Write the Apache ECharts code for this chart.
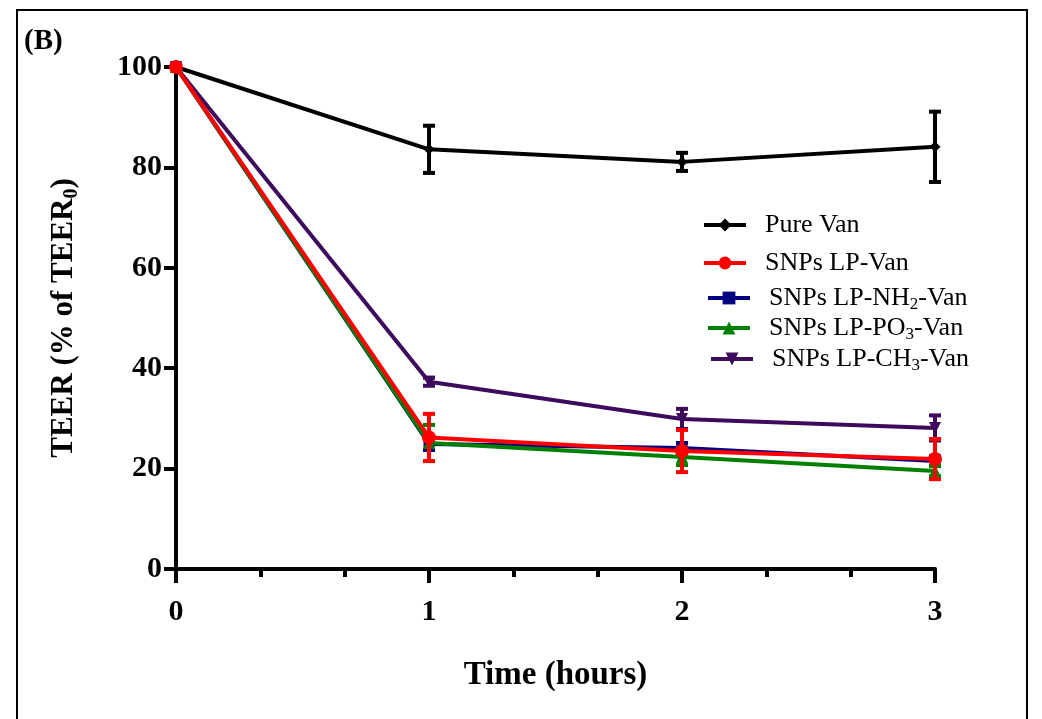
<html>
<head>
    <meta charset="UTF-8">
    <title>TEER</title>
    <script src="https://cdn.jsdelivr.net/npm/echarts@6/dist/echarts.min.js"></script>
    <style>
        body { margin: 0; background: #fff; }
    </style>
</head>
<body>
    <div id="container" style="width: 1042px;height:719px;"></div>
</body>
<script>
    var times = [0, 1, 2, 3];
    var seriesNames = ['Pure Van', 'SNPs LP-Van', 'SNPs LP-NH2-Van', 'SNPs LP-PO3-Van', 'SNPs LP-CH3-Van'];
    var pureVan = [100, 83.6, 81.1, 84.1];
    var lpVan = [100, 26.2, 23.5, 21.9];
    var nh2Van = [100, 24.9, 24.1, 21.5];
    var po3Van = [100, 25.1, 22.3, 19.5];
    var ch3Van = [100, 37.3, 29.9, 28.1];
    // error bars (+/-)
    var pureErr = [0, 4.7, 1.8, 7.0];
    var lpErr = [0, 4.7, 4.2, 4.0];
    var nh2Err = [0, 1.2, 1.0, 1.0];
    var po3Err = [0, 3.6, 1.6, 1.0];
    var ch3Err = [0, 0.8, 2.0, 2.5];
    var yTicks = [0, 20, 40, 60, 80, 100];

    var font = 'Liberation Serif';
    var colors = ['#000000', '#ff0000', '#000080', '#008000', '#3d0a5c'];
    var symbols = ['diamond', 'circle', 'rect', 'triangle', 'triangle'];
    var symbolSizes = [11, 14, 11, 12, 12];
    var symbolRotates = [0, 0, 0, 0, 180];
    var values = [pureVan, lpVan, nh2Van, po3Van, ch3Van];
    var errors = [pureErr, lpErr, nh2Err, po3Err, ch3Err];
    var zs = [3, 6, 4, 5, 3];
    var legendTops = [224, 262, 297, 327, 358];
    var legendLefts = [702, 702, 706, 706, 709];

    var mycharts = echarts.init(document.getElementById('container'));

    function label(name) {
        return name.replace('NH2', 'NH{sub|2}').replace('PO3', 'PO{sub|3}').replace('CH3', 'CH{sub|3}');
    }

    function errorSeries(i) {
        var data = [];
        for (var k = 0; k < times.length; k++) {
            if (errors[i][k] > 0) {
                data.push([times[k], values[i][k] - errors[i][k], values[i][k] + errors[i][k]]);
            }
        }
        return {
            type: 'custom',
            z: zs[i],
            silent: true,
            data: data,
            renderItem: function (params, api) {
                var lo = api.coord([api.value(0), api.value(1)]);
                var hi = api.coord([api.value(0), api.value(2)]);
                var w = 6;
                var st = { stroke: colors[i], lineWidth: 4 };
                return {
                    type: 'group',
                    children: [
                        { type: 'line', shape: { x1: lo[0], y1: lo[1], x2: hi[0], y2: hi[1] }, style: st },
                        { type: 'line', shape: { x1: lo[0] - w, y1: lo[1], x2: lo[0] + w, y2: lo[1] }, style: st },
                        { type: 'line', shape: { x1: hi[0] - w, y1: hi[1], x2: hi[0] + w, y2: hi[1] }, style: st }
                    ]
                };
            }
        };
    }

    var series = [];
    var legends = [];
    for (var i = 0; i < seriesNames.length; i++) {
        var pts = [];
        for (var k = 0; k < times.length; k++) {
            pts.push([times[k], values[i][k]]);
        }
        series.push({
            name: seriesNames[i],
            type: 'line',
            data: pts,
            z: zs[i],
            symbol: symbols[i],
            symbolSize: symbolSizes[i],
            symbolRotate: symbolRotates[i],
            showAllSymbol: true,
            color: colors[i],
            lineStyle: { width: 4, color: colors[i] },
            itemStyle: { color: colors[i] },
            animation: false
        });
        series.push(errorSeries(i));
        legends.push({
            data: [seriesNames[i]],
            left: legendLefts[i],
            top: legendTops[i] - 12,
            itemWidth: 42,
            itemHeight: 16,
            itemGap: 0,
            padding: 0,
            lineStyle: { width: 4 },
            formatter: function (name) { return label(name); },
            textStyle: {
                fontFamily: font,
                fontSize: 26,
                color: '#000',
                padding: [0, 0, 0, 14],
                rich: {
                    sub: { fontFamily: font, fontSize: 17, color: '#000', padding: [13, 0, 0, 0] }
                }
            }
        });
    }

    var option = {
        animation: false,
        grid: { left: 176, right: 107, top: 67, bottom: 150 },
        legend: legends,
        graphic: [
            { type: 'rect', shape: { x: 17, y: 10, width: 1010, height: 720 }, style: { fill: null, stroke: '#000', lineWidth: 2 } },
            { type: 'text', left: 24, top: 27, style: { text: '(B)', font: 'bold 29px "Liberation Serif"', fill: '#000' } }
        ],
        xAxis: {
            type: 'value',
            min: 0,
            max: 3,
            interval: 1,
            name: 'Time (hours)',
            nameLocation: 'middle',
            nameGap: 90,
            nameTextStyle: { fontFamily: font, fontWeight: 'bold', fontSize: 33, color: '#000' },
            axisLine: { onZero: false, lineStyle: { color: '#000', width: 4 } },
            axisTick: { length: 14, lineStyle: { color: '#000', width: 4 } },
            minorTick: { show: true, splitNumber: 3, length: 8, lineStyle: { color: '#000', width: 4 } },
            axisLabel: { fontFamily: font, fontWeight: 'bold', fontSize: 30, color: '#000', margin: 28 },
            splitLine: { show: false }
        },
        yAxis: {
            type: 'value',
            min: yTicks[0],
            max: yTicks[yTicks.length - 1],
            interval: 20,
            name: 'TEER (% of TEER{sub|0})',
            nameLocation: 'middle',
            nameGap: 94,
            nameRotate: 90,
            nameTextStyle: {
                fontFamily: font, fontWeight: 'bold', fontSize: 31, color: '#000',
                rich: { sub: { fontFamily: font, fontWeight: 'bold', fontSize: 20, color: '#000', padding: [16, 0, 0, 0] } }
            },
            axisLine: { onZero: false, lineStyle: { color: '#000', width: 4 } },
            axisTick: { length: 12, lineStyle: { color: '#000', width: 4 } },
            axisLabel: { fontFamily: font, fontWeight: 'bold', fontSize: 30, color: '#000', margin: 14 },
            splitLine: { show: false }
        },
        series: series
    };
    mycharts.setOption(option);
</script>
</html>
